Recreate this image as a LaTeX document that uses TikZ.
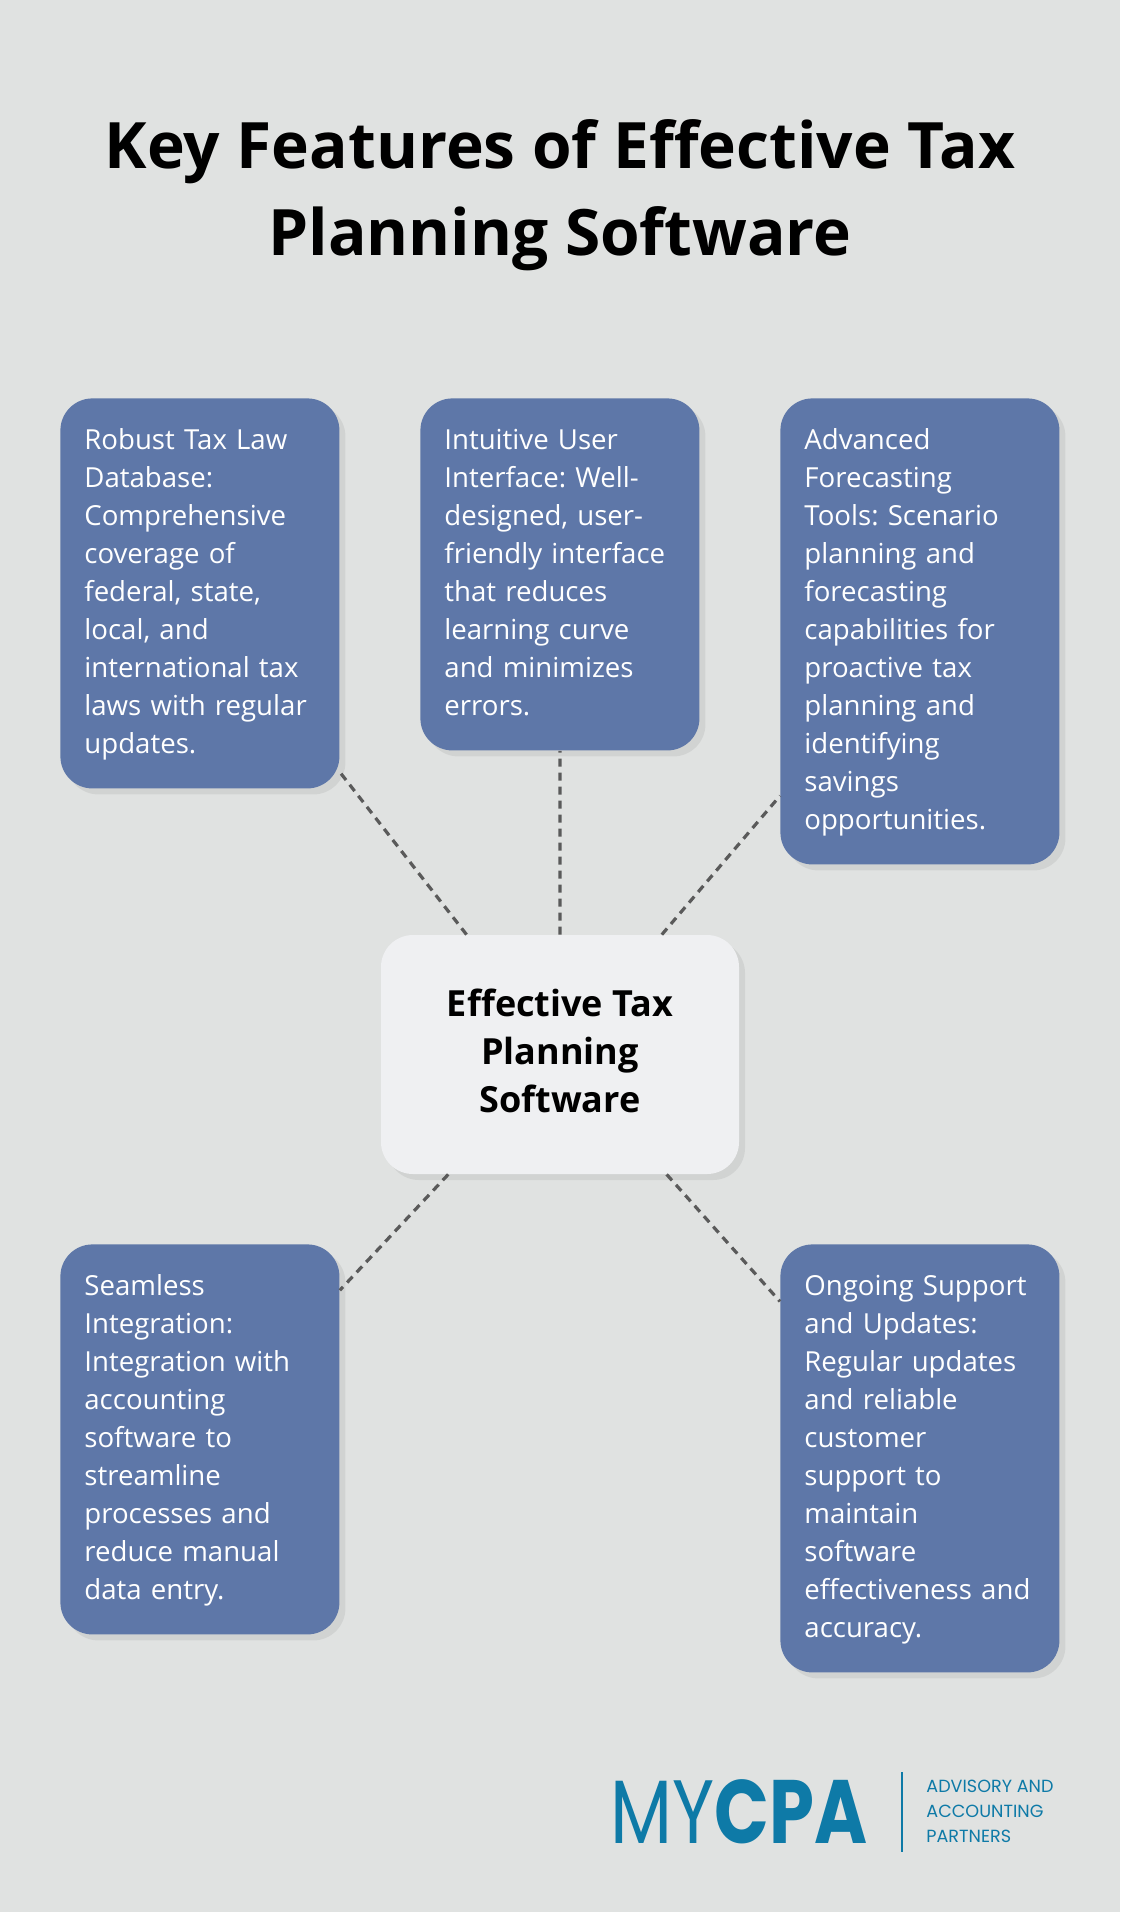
\documentclass[tikz,border=0pt]{standalone}
\usepackage{fontspec}
\setmainfont{Open Sans}
\newfontfamily\logofont{Poppins}
\usepackage{graphicx}
\usetikzlibrary{shadows}
\frenchspacing

\definecolor{bg}{HTML}{E0E2E1}
\definecolor{cardblue}{HTML}{5E77A8}
\definecolor{hubfill}{HTML}{EFF0F2}
\definecolor{linkgray}{HTML}{5A5A5A}
\definecolor{brand}{HTML}{0E7AA7}

\begin{document}
\begin{tikzpicture}[x=0.5pt, y=-0.5pt,
  card/.style={rectangle, rounded corners=16pt, fill=cardblue, text=white,
    anchor=north west, text width=115.5pt, inner sep=12pt, align=left,
    font=\fontsize{13.8}{19}\selectfont,
    drop shadow={opacity=0.15, shadow xshift=3pt, shadow yshift=-3pt}},
  hub/.style={rectangle, rounded corners=16pt, fill=hubfill,
    minimum width=179pt, minimum height=119.5pt, align=center,
    font=\bfseries\fontsize{18}{24}\selectfont,
    drop shadow={opacity=0.15, shadow xshift=3pt, shadow yshift=-3pt}},
  link/.style={draw=linkgray, line width=1.6pt, dash pattern=on 4pt off 3pt}]

\fill[bg] (0,0) rectangle (1120,1912);

\node[align=center, font=\bfseries\fontsize{32}{43.5}\selectfont] (title) at (560,195)
  {\strut Key Features of Effective Tax\\Planning Software\strut};

\node[hub] (hub) at (560,1054.5) {\strut Effective Tax\\Planning\\Software\strut};

\node[card] (db) at (60,398) {\strut Robust Tax Law\\Database:\\Comprehensive\\coverage of\\federal, state,\\local, and\\international tax\\laws with regular\\updates.\strut};

\node[card] (ui) at (420,398) {\strut Intuitive User\\Interface: Well-\\designed, user-\\friendly interface\\that reduces\\learning curve\\and minimizes\\errors.\strut};

\node[card] (fc) at (780,398) {\strut Advanced\\Forecasting\\Tools: Scenario\\planning and\\forecasting\\capabilities for\\proactive tax\\planning and\\identifying\\savings\\opportunities.\strut};

\node[card] (integ) at (60,1244) {\strut Seamless\\Integration:\\Integration with\\accounting\\software to\\streamline\\processes and\\reduce manual\\data entry.\strut};

\node[card] (supp) at (780,1244) {\strut Ongoing Support\\and Updates:\\Regular updates\\and reliable\\customer\\support to\\maintain\\software\\effectiveness and\\accuracy.\strut};

\draw[link] (hub) -- (db);
\draw[link] (hub) -- (ui);
\draw[link] (hub) -- (fc);
\draw[link] (hub) -- (integ);
\draw[link] (hub) -- (supp);

\node[anchor=base west, inner sep=0pt, text=brand, font=\logofont\fontsize{45}{45}\selectfont] (logo) at (610,1843)
  {\scalebox{0.8}[1]{MY\textbf{CPA}}};

\draw[brand, line width=0.8pt] (902,1772) -- (902,1852);

\node[anchor=west, inner sep=0pt, text=brand, align=left, font=\logofont\fontsize{8.8}{12.5}\selectfont] (tagline) at (926,1812)
  {\strut ADVISORY AND\\ACCOUNTING\\PARTNERS\strut};

\end{tikzpicture}
\end{document}
